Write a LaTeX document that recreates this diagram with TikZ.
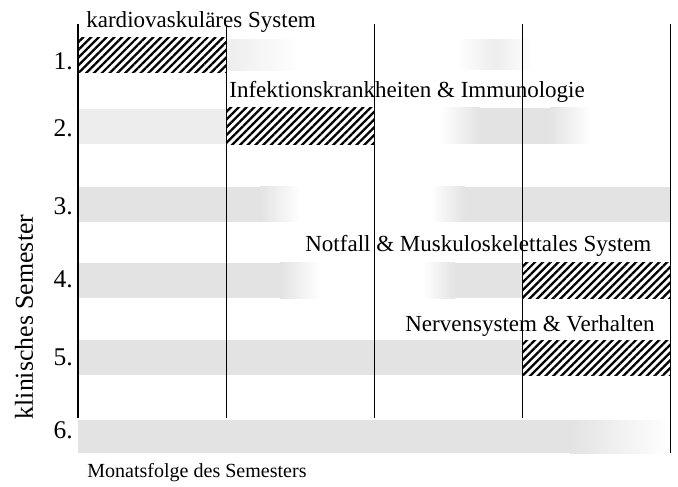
\documentclass[tikz,border=0pt]{standalone}
\usepackage{fontspec}
\setmainfont{Liberation Serif}
\usetikzlibrary{patterns.meta}

\tikzset{
  schraffur/.style={pattern={Lines[angle=45,distance=0.11cm,line width=1.3pt]}},
  grau/.style={fill=black!11},
  hellgrau/.style={fill=black!7},
  zeile/.style={anchor=base east,inner sep=0pt,font=\fontsize{14.5}{16}\selectfont},
  fach/.style={anchor=base west,inner sep=0pt,font=\fontsize{13.1}{15}\selectfont},
}

\begin{document}
\begin{tikzpicture}
    \useasboundingbox (0,0) rectangle (13.56,9.72);
    % graue Balken (uebrige Faecher)
    \shade[left color=black!7, right color=white] (4.52,8.92) rectangle (6.0,8.30);
    \shade[left color=white, right color=black!7] (9.14,8.92) rectangle (9.9,8.32);
    \shade[left color=black!7, right color=white] (9.9,8.92) rectangle (10.66,8.32);
    \fill[hellgrau] (1.56,7.54) rectangle (4.52,6.84);
    \shade[left color=white, right color=black!11] (8.8,7.56) rectangle (9.6,6.84);
    \fill[grau] (9.6,7.56) rectangle (11.0,6.84);
    \shade[left color=black!11, right color=white] (11.0,7.56) rectangle (11.8,6.84);
    \fill[grau] (1.56,5.98) rectangle (5.2,5.28);
    \shade[left color=black!11, right color=white] (5.2,5.98) rectangle (6.0,5.28);
    \shade[left color=white, right color=black!11] (8.6,5.98) rectangle (9.3,5.28);
    \fill[grau] (9.3,5.98) rectangle (13.4,5.28);
    \fill[grau] (1.56,4.46) rectangle (5.6,3.76);
    \shade[left color=black!11, right color=white] (5.6,4.46) rectangle (6.4,3.76);
    \shade[left color=white, right color=black!11] (8.46,4.46) rectangle (9.1,3.76);
    \fill[grau] (9.1,4.46) rectangle (10.44,3.76);
    \fill[grau] (1.56,2.92) rectangle (10.44,2.22);
    \fill[grau] (1.56,1.32) rectangle (11.4,0.66);
    \shade[left color=black!11, right color=white] (11.4,1.32) rectangle (13.4,0.66);
    % schraffierte Balken
    \fill[schraffur] (1.56,8.96) rectangle (4.52,8.26);
    \fill[schraffur] (4.52,7.56) rectangle (7.48,6.82);
    \fill[schraffur] (10.44,4.46) rectangle (13.4,3.76);
    \fill[schraffur] (10.44,2.92) rectangle (13.4,2.22);
    % Monatsgrenzen
    \draw[line width=0.7pt] (1.56,9.24) -- (1.56,1.36);
    \draw[line width=0.5pt] (4.52,9.22) -- (4.52,1.36);
    \draw[line width=0.5pt] (7.48,9.24) -- (7.48,1.36);
    \draw[line width=0.5pt] (10.44,9.24) -- (10.44,1.36);
    \draw[line width=0.5pt] (13.4,9.24) -- (13.4,0.66);
    % Semester
    \node [zeile] (s1) at (1.46,8.32) {1.};
    \node [zeile] (s2) at (1.46,6.98) {2.};
    \node [zeile] (s3) at (1.46,5.42) {3.};
    \node [zeile] (s4) at (1.46,3.96) {4.};
    \node [zeile] (s5) at (1.46,2.42) {5.};
    \node [zeile] (s6) at (1.46,0.96) {6.};
    % Faecher
    \node [fach] (kardio) at (1.72,9.16) {kardiovaskuläres System};
    \node [fach] (infekt) at (4.58,7.76) {Infektionskrankheiten \& Immunologie};
    \node [fach] (notfall) at (6.1,4.7) {Notfall \& Muskuloskelettales System};
    \node [fach] (nerven) at (8.1,3.1) {Nervensystem \& Verhalten};
    % Achsen
    \node [anchor=base,inner sep=0pt,rotate=90,font=\fontsize{14.7}{16}\selectfont] (ylab) at (0.66,3.38) {klinisches Semester};
    \node [anchor=base west,inner sep=0pt,font=\fontsize{11.4}{13}\selectfont] (xlab) at (1.74,0.18) {Monatsfolge des Semesters};
\end{tikzpicture}
\end{document}
